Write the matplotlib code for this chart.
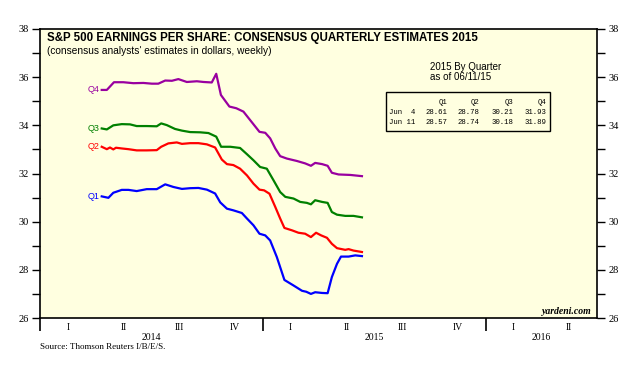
import numpy as np
import matplotlib
matplotlib.use('Agg')
import matplotlib.pyplot as plt

# DATA (decimal years, consensus EPS estimates in dollars)
q4_t = [2014.277, 2014.300, 2014.332, 2014.374, 2014.419, 2014.464, 2014.502, 2014.531,
        2014.562, 2014.592, 2014.621, 2014.659, 2014.704, 2014.734, 2014.771, 2014.791,
        2014.812, 2014.850, 2014.881, 2014.913, 2014.943, 2014.985, 2015.011, 2015.033,
        2015.056, 2015.078, 2015.108, 2015.153, 2015.190, 2015.216, 2015.235, 2015.266,
        2015.291, 2015.310, 2015.340, 2015.393, 2015.445]
q4_v = [35.47, 35.47, 35.79, 35.79, 35.75, 35.76, 35.73, 35.73,
        35.86, 35.85, 35.92, 35.80, 35.83, 35.80, 35.78, 36.14,
        35.26, 34.78, 34.71, 34.57, 34.22, 33.73, 33.69, 33.46,
        33.04, 32.72, 32.62, 32.52, 32.42, 32.32, 32.44, 32.39,
        32.32, 32.03, 31.96, 31.94, 31.89]

q3_t = [2014.277, 2014.300, 2014.329, 2014.367, 2014.404, 2014.434, 2014.479, 2014.524,
        2014.544, 2014.569, 2014.606, 2014.637, 2014.674, 2014.719, 2014.756, 2014.791,
        2014.813, 2014.854, 2014.898, 2014.929, 2014.958, 2014.988, 2015.018, 2015.048,
        2015.078, 2015.101, 2015.138, 2015.168, 2015.198, 2015.216, 2015.235, 2015.266,
        2015.291, 2015.310, 2015.333, 2015.370, 2015.407, 2015.445]
q3_v = [33.87, 33.83, 34.00, 34.05, 34.04, 33.97, 33.97, 33.96,
        34.08, 34.01, 33.85, 33.78, 33.72, 33.71, 33.68, 33.53,
        33.11, 33.11, 33.06, 32.80, 32.55, 32.27, 32.20, 31.72,
        31.23, 31.03, 30.96, 30.82, 30.78, 30.72, 30.89, 30.82,
        30.78, 30.40, 30.29, 30.24, 30.24, 30.18]

q2_t = [2014.277, 2014.300, 2014.314, 2014.329, 2014.341, 2014.367, 2014.397, 2014.434,
        2014.479, 2014.524, 2014.544, 2014.576, 2014.614, 2014.637, 2014.674, 2014.711,
        2014.749, 2014.786, 2014.801, 2014.816, 2014.839, 2014.868, 2014.898, 2014.929,
        2014.958, 2014.985, 2015.006, 2015.030, 2015.056, 2015.078, 2015.097, 2015.131,
        2015.160, 2015.190, 2015.216, 2015.239, 2015.262, 2015.288, 2015.310, 2015.333,
        2015.370, 2015.385, 2015.407, 2015.445]
q2_v = [33.11, 33.01, 33.08, 33.00, 33.07, 33.04, 33.01, 32.96,
        32.96, 32.97, 33.11, 33.25, 33.29, 33.23, 33.26, 33.26,
        33.21, 33.08, 32.83, 32.58, 32.39, 32.35, 32.20, 31.92,
        31.58, 31.33, 31.30, 31.16, 30.61, 30.13, 29.74, 29.64,
        29.54, 29.50, 29.36, 29.54, 29.43, 29.33, 29.08, 28.90,
        28.83, 28.86, 28.80, 28.74]

q1_t = [2014.277, 2014.307, 2014.329, 2014.367, 2014.397, 2014.434, 2014.479, 2014.524,
        2014.562, 2014.599, 2014.637, 2014.674, 2014.711, 2014.749, 2014.786, 2014.809,
        2014.839, 2014.868, 2014.906, 2014.929, 2014.958, 2014.985, 2015.011, 2015.033,
        2015.063, 2015.097, 2015.138, 2015.176, 2015.195, 2015.216, 2015.235, 2015.266,
        2015.291, 2015.310, 2015.333, 2015.351, 2015.385, 2015.415, 2015.445]
q1_v = [31.05, 30.99, 31.20, 31.32, 31.32, 31.27, 31.35, 31.35,
        31.55, 31.44, 31.36, 31.39, 31.40, 31.33, 31.17, 30.80,
        30.54, 30.47, 30.36, 30.13, 29.85, 29.50, 29.43, 29.22,
        28.53, 27.58, 27.35, 27.13, 27.09, 27.00, 27.07, 27.04,
        27.03, 27.70, 28.25, 28.55, 28.55, 28.60, 28.57]

series = [('Q4', q4_t, q4_v, '#9900A0'),
          ('Q3', q3_t, q3_v, '#008000'),
          ('Q2', q2_t, q2_v, '#FF0000'),
          ('Q1', q1_t, q1_v, '#0000FF')]

table_cols = ['Q1', 'Q2', 'Q3', 'Q4']
table_rows = ['Jun  4', 'Jun 11']
table_vals = [[28.61, 28.78, 30.21, 31.93],
              [28.57, 28.74, 30.18, 31.89]]

quarter_lbls = ['I', 'II', 'III', 'IV']
years = [2014, 2015, 2016]
year_lbl_pos = [2014.5, 2015.5, 2016.25]

SANS = 'Liberation Sans'
SERIF = 'Liberation Serif'
MONO = 'Liberation Mono'

fig = plt.figure(figsize=(6.42, 3.79), dpi=100)
ax = fig.add_axes([40/642, 1-318/379, 557/642, 289/379])
ax.set_facecolor('#FFFFE0')

for name, t, v, c in series:
    ax.plot(t, v, color=c, lw=1.6, solid_joinstyle='round')
    ax.text(t[0] - 0.012, v[0], name, color=c, fontsize=6.5, family=SANS,
            ha='right', va='center')

ax.set_xlim(2014.0, 2016.5)
ax.set_ylim(26, 38)

# y axes both sides
ax.set_yticks(np.arange(26, 39, 2))
ax.set_yticks(np.arange(27, 38, 2), minor=True)
ax.tick_params(axis='y', which='both', direction='out', length=6, width=1,
               left=True, right=True, labelleft=True, labelright=True,
               labelsize=7.5, pad=2)
for lab in ax.get_yticklabels():
    lab.set_family(SERIF)

# x axis: year ticks + quarter labels
ax.set_xticks(years)
ax.set_xticklabels([])
ax.tick_params(axis='x', which='major', direction='out', length=9, width=1.2)
trans = ax.get_xaxis_transform()
for yr in years:
    for q, ql in enumerate(quarter_lbls):
        xm = yr + 0.125 + q * 0.25
        if xm < 2016.5:
            ax.text(xm, -9/289, ql, transform=trans, ha='center', va='center',
                    fontsize=7, family=SERIF)
for yr, xp in zip(years, year_lbl_pos):
    ax.text(xp, -19.5/289, str(yr), transform=trans, ha='center', va='center',
            fontsize=7, family=SERIF)

for s in ax.spines.values():
    s.set_linewidth(1.2)

# titles
fig.text(47/642, 1-38.5/379, 'S&P 500 EARNINGS PER SHARE: CONSENSUS QUARTERLY ESTIMATES 2015',
         fontsize=8.3, fontweight='bold', family=SANS, va='center')
fig.text(47/642, 1-51/379, "(consensus analysts' estimates in dollars, weekly)",
         fontsize=7.3, family=SANS, va='center')
fig.text(40/642, 1-347/379, 'Source: Thomson Reuters I/B/E/S.',
         fontsize=6.5, family=SERIF, va='center')
fig.text(592/642, 1-311/379, 'yardeni.com', fontsize=7, family=SERIF,
         fontweight='bold', style='italic', ha='right', va='center')

fig.text(430/642, 1-71.5/379, '2015 By Quarter\nas of 06/11/15', fontsize=7,
         family=SANS, va='center', linespacing=1.0)

# estimates table box
box = plt.Rectangle((386/642, 1-131/379), 164/642, 38.5/379, transform=fig.transFigure,
                    fill=False, edgecolor='black', lw=1.0)
fig.add_artist(box)
col_x = [447, 479.5, 513, 546]
for cx, cl in zip(col_x, table_cols):
    fig.text(cx/642, 1-102/379, cl, fontsize=5.3, family=MONO,
             ha='right', va='center')
for r, (rl, vals) in enumerate(zip(table_rows, table_vals)):
    yy = 1 - (113 + r*10)/379
    fig.text(389/642, yy, rl, fontsize=5.3, family=MONO, va='center')
    for cx, val in zip(col_x, vals):
        fig.text(cx/642, yy, f'{val:.2f}', fontsize=5.3, family=MONO,
                 ha='right', va='center')

fig.savefig('out.png', dpi=100, facecolor='white')
